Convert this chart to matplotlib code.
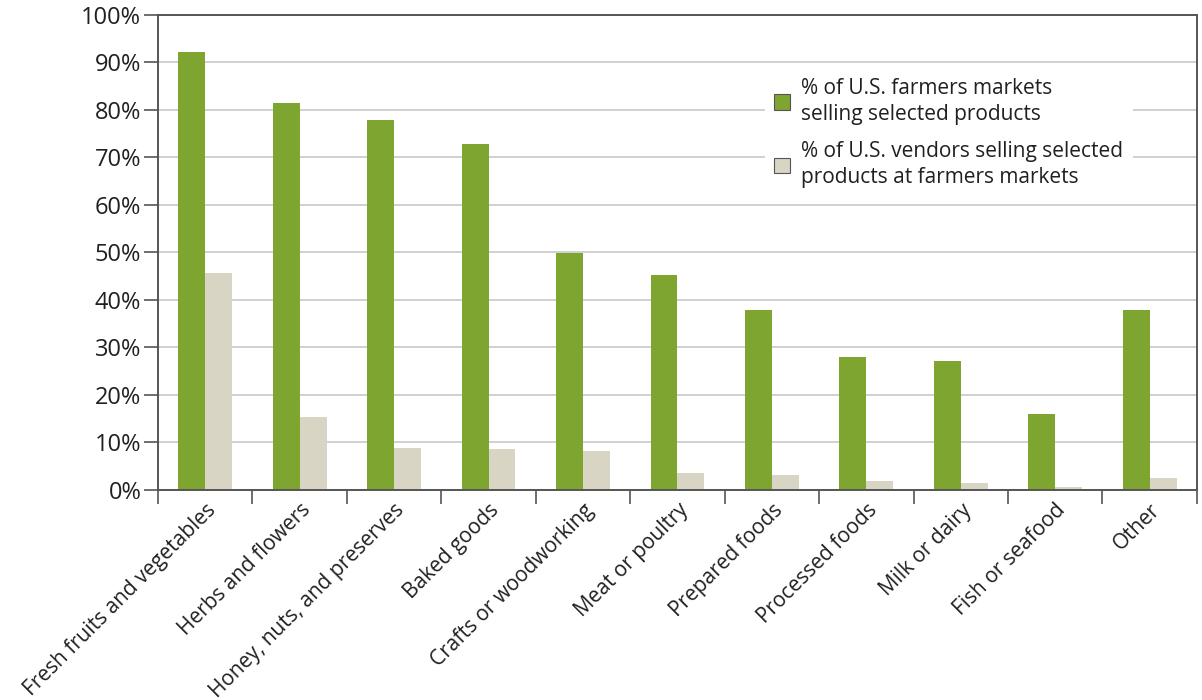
import matplotlib
matplotlib.use("Agg")
import matplotlib.pyplot as plt
import numpy as np
from matplotlib.ticker import FixedLocator, FuncFormatter

plt.rcParams['font.family'] = ['Open Sans', 'DejaVu Sans']

categories = [
    "Fresh fruits and vegetables", "Herbs and flowers", "Honey, nuts, and preserves",
    "Baked goods", "Crafts or woodworking", "Meat or poultry", "Prepared foods",
    "Processed foods", "Milk or dairy", "Fish or seafood", "Other",
]
markets_pct = [92.2, 81.5, 77.9, 72.8, 49.9, 45.3, 37.9, 28.0, 27.2, 16.0, 37.9]
vendors_pct = [45.6, 15.4, 8.8, 8.6, 8.2, 3.6, 3.2, 1.9, 1.5, 0.6, 2.5]
series_labels = [
    "% of U.S. farmers markets\nselling selected products",
    "% of U.S. vendors selling selected\nproducts at farmers markets",
]

GREEN = '#7ea52f'
BEIGE = '#d8d5c4'
SPINE = '#555555'
TEXT = '#231f20'

fig = plt.figure(figsize=(12.02, 7.0), dpi=100)
ax = fig.add_axes([0.1314, 0.30, 0.8644, 0.6786])

x = np.arange(len(categories))
w = 0.285
ax.bar(x - w / 2, markets_pct, w, color=GREEN, label=series_labels[0], zorder=2)
ax.bar(x + w / 2, vendors_pct, w, color=BEIGE, label=series_labels[1], zorder=2)

ax.set_xlim(-0.5, len(categories) - 0.5)
ax.set_ylim(0, 100)

# y axis: percent ticks with light gridlines
ax.set_yticks(np.arange(0, 101, 10))
ax.yaxis.set_major_formatter(FuncFormatter(lambda v, p: f"{int(v)}%"))
ax.yaxis.grid(True, color='#c8c8c8', linewidth=1.2, zorder=0)
ax.set_axisbelow(True)

# x axis: labels at the centres, tick marks between the groups
ax.set_xticks(x)
ax.set_xticklabels(categories, rotation=45, ha='right', rotation_mode='anchor')
ax.tick_params(axis='x', length=0, pad=7, labelsize=15)
ax.xaxis.set_minor_locator(FixedLocator(np.arange(-0.5, len(categories), 1.0)))
ax.tick_params(axis='x', which='minor', length=10, width=1.2, color=SPINE, direction='out')
ax.tick_params(axis='y', length=10, width=1.2, color=SPINE, direction='out', pad=2,
               labelsize=17)
ax.tick_params(labelcolor=TEXT)

for s in ax.spines.values():
    s.set_color(SPINE)
    s.set_linewidth(1.4)

leg = ax.legend(loc='upper left', bbox_to_anchor=(0.574, 0.91), frameon=True,
                fontsize=15, handlelength=0.75, handleheight=0.75,
                handletextpad=0.55, labelspacing=0.75, borderpad=0.45,
                fancybox=False)
leg.get_frame().set_facecolor('white')
leg.get_frame().set_edgecolor('none')
leg.get_frame().set_alpha(1.0)
for h in leg.legend_handles:
    h.set_edgecolor('#555555')
    h.set_linewidth(0.8)
for t in leg.get_texts():
    t.set_color(TEXT)
    t.set_linespacing(1.35)

fig.savefig('out.png', dpi=100, facecolor='white')
